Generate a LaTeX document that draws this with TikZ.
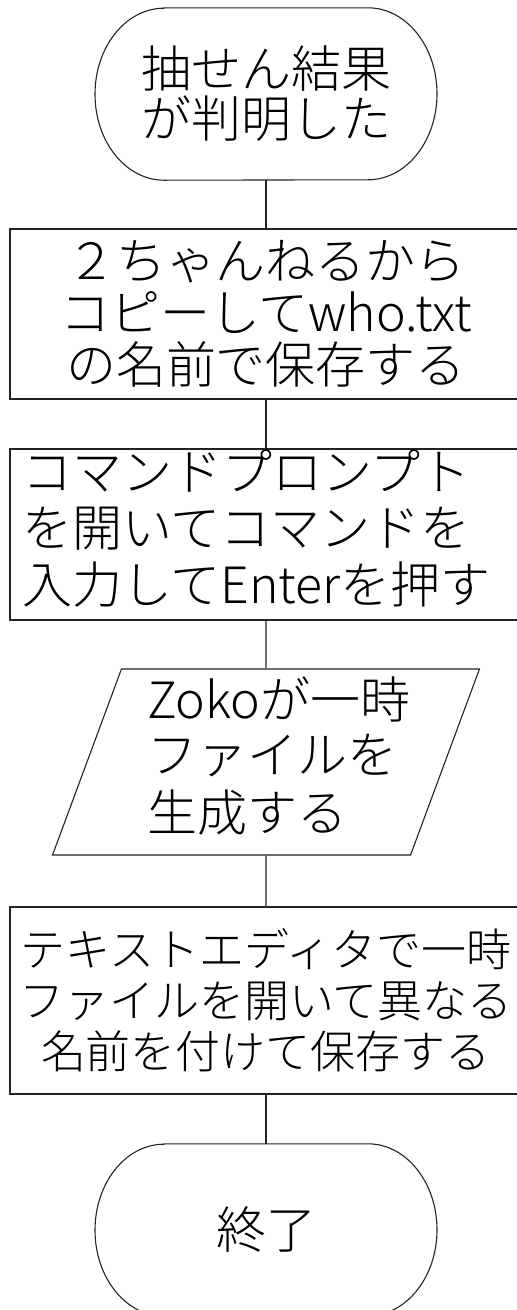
\documentclass[tikz,border=0pt]{standalone}
\usepackage{fontspec}
\IfFontExistsTF{Noto Sans CJK JP Light}{\setmainfont{Noto Sans CJK JP Light}}{\setmainfont{Noto Sans CJK JP}}
\usepackage{xcolor}
\usepackage{tikz}
\usetikzlibrary{shapes.geometric}
\definecolor{linegray}{RGB}{35, 35, 35}
\tikzset{
    flowline/.style={draw=linegray,line width=1.1pt},
    termnode/.style={rectangle,minimum width=342pt,minimum height=172pt,inner sep=0pt,align=center,font=\fontsize{50pt}{50pt}\selectfont},
    procbox/.style={flowline,rectangle,minimum width=512pt,inner sep=0pt,align=center,font=\fontsize{50pt}{52pt}\selectfont},
    iobox/.style={flowline,trapezium,trapezium left angle=68,trapezium right angle=112,trapezium stretches=true,minimum width=374pt,minimum height=186pt,inner sep=0pt,font=\fontsize{50pt}{53pt}\selectfont}
}

\begin{document}
\begin{tikzpicture}[x=1pt,y=1pt]
        \useasboundingbox (0,0) rectangle (517,-1310);
        \clip (0,0) rectangle (517,-1310);

        \node[termnode] (start) at (266,-94) {抽せん結果\\が判明した};
        \draw[flowline] ([xshift=-102pt]start.north) -- ([xshift=102pt]start.north)
            arc[start angle=90,end angle=-90,x radius=69pt,y radius=86pt]
            -- ([xshift=-102pt]start.south)
            arc[start angle=270,end angle=90,x radius=69pt,y radius=86pt] -- cycle;

        \node[procbox,minimum height=170pt] (copy) at (266,-314) {２ちゃんねるから\\コピーしてwho.txt\\の名前で保存する};
        \node[procbox,minimum height=171pt] (prompt) at (266,-534.5) {
            \begin{tabular}{@{}l@{\hspace{8pt}}}
                コマンドプロンプト \\
                を開いてコマンドを \\
                入力してEnterを押す
            \end{tabular}
        };
        \node[iobox] (tmpfile) at (266,-762) {
            \begin{tabular}{@{\hspace{26pt}}l@{}}
                Zokoが一時 \\
                ファイルを \\
                生成する
            \end{tabular}
        };
        \node[procbox,minimum height=187pt,font=\fontsize{45pt}{51pt}\selectfont] (editor) at (266,-1000.5) {テキストエディタで一時\\ファイルを開いて異なる\\名前を付けて保存する};

        \node[termnode] (finish) at (266,-1230) {終了};
        \draw[flowline] ([xshift=-102pt]finish.north) -- ([xshift=102pt]finish.north)
            arc[start angle=90,end angle=-90,x radius=69pt,y radius=86pt]
            -- ([xshift=-102pt]finish.south)
            arc[start angle=270,end angle=90,x radius=69pt,y radius=86pt] -- cycle;

        \draw[flowline] (start) -- (copy);
        \draw[flowline] (copy) -- (prompt);
        \draw[flowline] (prompt) -- (tmpfile);
        \draw[flowline] (tmpfile) -- (editor);
        \draw[flowline] (editor) -- (finish);
    \end{tikzpicture}
\end{document}
